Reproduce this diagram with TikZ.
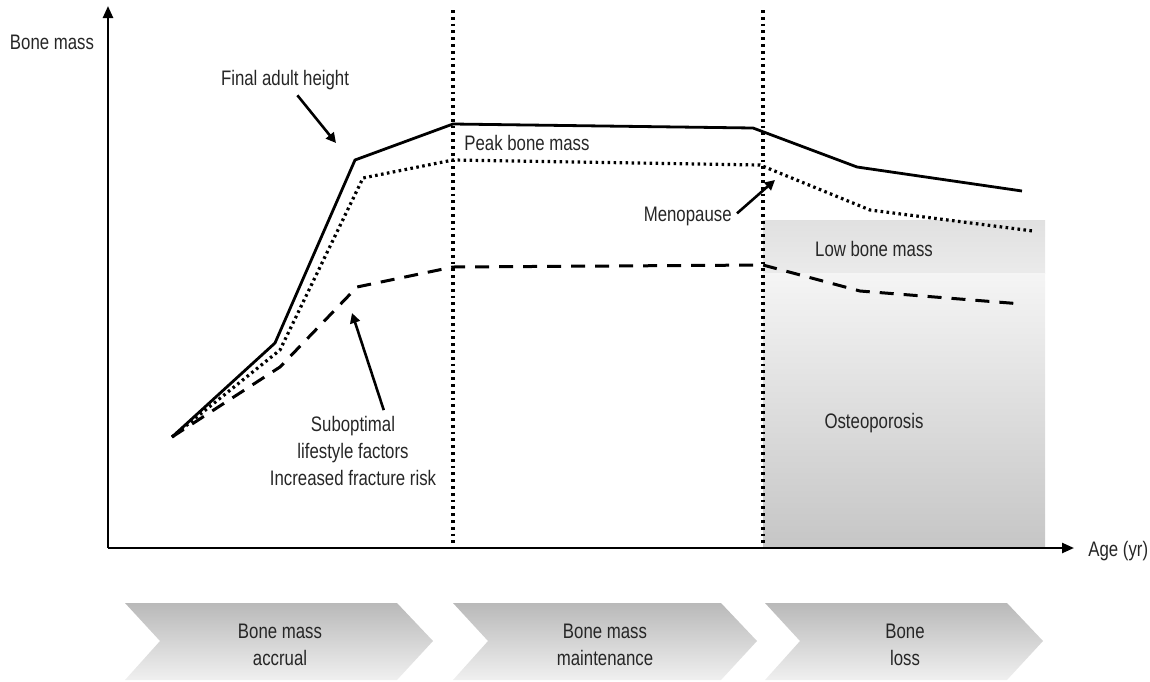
\documentclass[tikz,border=0pt]{standalone}
\usepackage{fontspec}
\setmainfont{Liberation Sans}[FakeStretch=0.8]
\usetikzlibrary{arrows.meta}

\definecolor{label text}{gray}{0.15}

\begin{document}
\begin{tikzpicture}[x=0.5pt,y=-0.5pt,
    lbl/.style={text=label text,font=\fontsize{10.5}{13.5}\selectfont,inner sep=1pt},
    axis/.style={line width=1.2pt,-{Triangle[length=6pt,width=5pt]}},
    note/.style={line width=1.3pt,-{Triangle[length=5pt,width=5pt]},shorten <=2pt},
    solidc/.style={line width=1.4pt,line join=round},
    dotc/.style={line width=1.6pt,dash pattern=on 1.3pt off 1.7pt,line join=round},
    dashc/.style={line width=1.5pt,dash pattern=on 7pt off 5pt,line join=round},
    sep/.style={line width=1.6pt,dash pattern=on 1.4pt off 2pt},
    chev/.style={top color=gray!55,bottom color=gray!12,draw=none}]
\useasboundingbox (0,0) rectangle (1150,681);

% bone loss zones
\shade[top color=gray!24,bottom color=gray!16] (763,220) rectangle (1045,273);
\shade[top color=gray!8,bottom color=gray!45] (763,273) rectangle (1045,548);
\node[lbl] (lowbm) at (874,249) {Low bone mass};
\node[lbl] (osteo) at (874,423) {Osteoporosis};

% phase separators
\foreach \x in {453,763}
    \draw[sep] (\x,10) -- (\x,548);

% axes
\coordinate (orig) at (108,548);
\draw[axis] (orig) -- (108,6);
\draw[axis] (orig) -- (1074,548);
\node[lbl] (ymass) at (52,42) {Bone mass};
\node[lbl,anchor=west] (age) at (1086,551) {Age (yr)};

% curves
\draw[solidc] (172,437) -- (275,343) -- (355,160) -- (453,124) -- (753,128) -- (857,167) -- (1022,191);
\draw[dotc] (172,437) -- (280,350) -- (363,178) -- (453,160) -- (760,165) -- (870,210) -- (1033,231);
\draw[dashc] (172,437) -- (280,367) -- (357,287) -- (453,267) -- (763,265) -- (860,291) -- (1022,304);

% annotations
\node[lbl] (height) at (285,80) {Final adult height};
\coordinate (height tip) at (336,143);
\draw[note] (height) -- (height tip);
\node[lbl,anchor=west] (peak) at (462,143) {Peak bone mass};
\node[lbl,anchor=east] (meno) at (734,216) {Menopause};
\coordinate (meno tip) at (775,180);
\draw[note] (meno.east) -- (meno tip);
\node[lbl,align=center] (subopt) at (353,451) {Suboptimal\\lifestyle factors\\Increased fracture risk};
\coordinate (subopt tip) at (352,313);
\draw[note] ([xshift=16pt]subopt.north) -- (subopt tip);

% phases
\foreach \xa/\xb in {125/433,453/757,765/1043}
    \shade[chev] (\xa,603) -- (\xb-36,603) -- (\xb,641) -- (\xb-36,680) -- (\xa,680) -- (\xa+35,641) -- cycle;
\node[lbl,align=center] (accrual) at (280,645) {Bone mass\\accrual};
\node[lbl,align=center] (maint) at (605,645) {Bone mass\\maintenance};
\node[lbl,align=center] (loss) at (905,645) {Bone\\loss};

\end{tikzpicture}
\end{document}
